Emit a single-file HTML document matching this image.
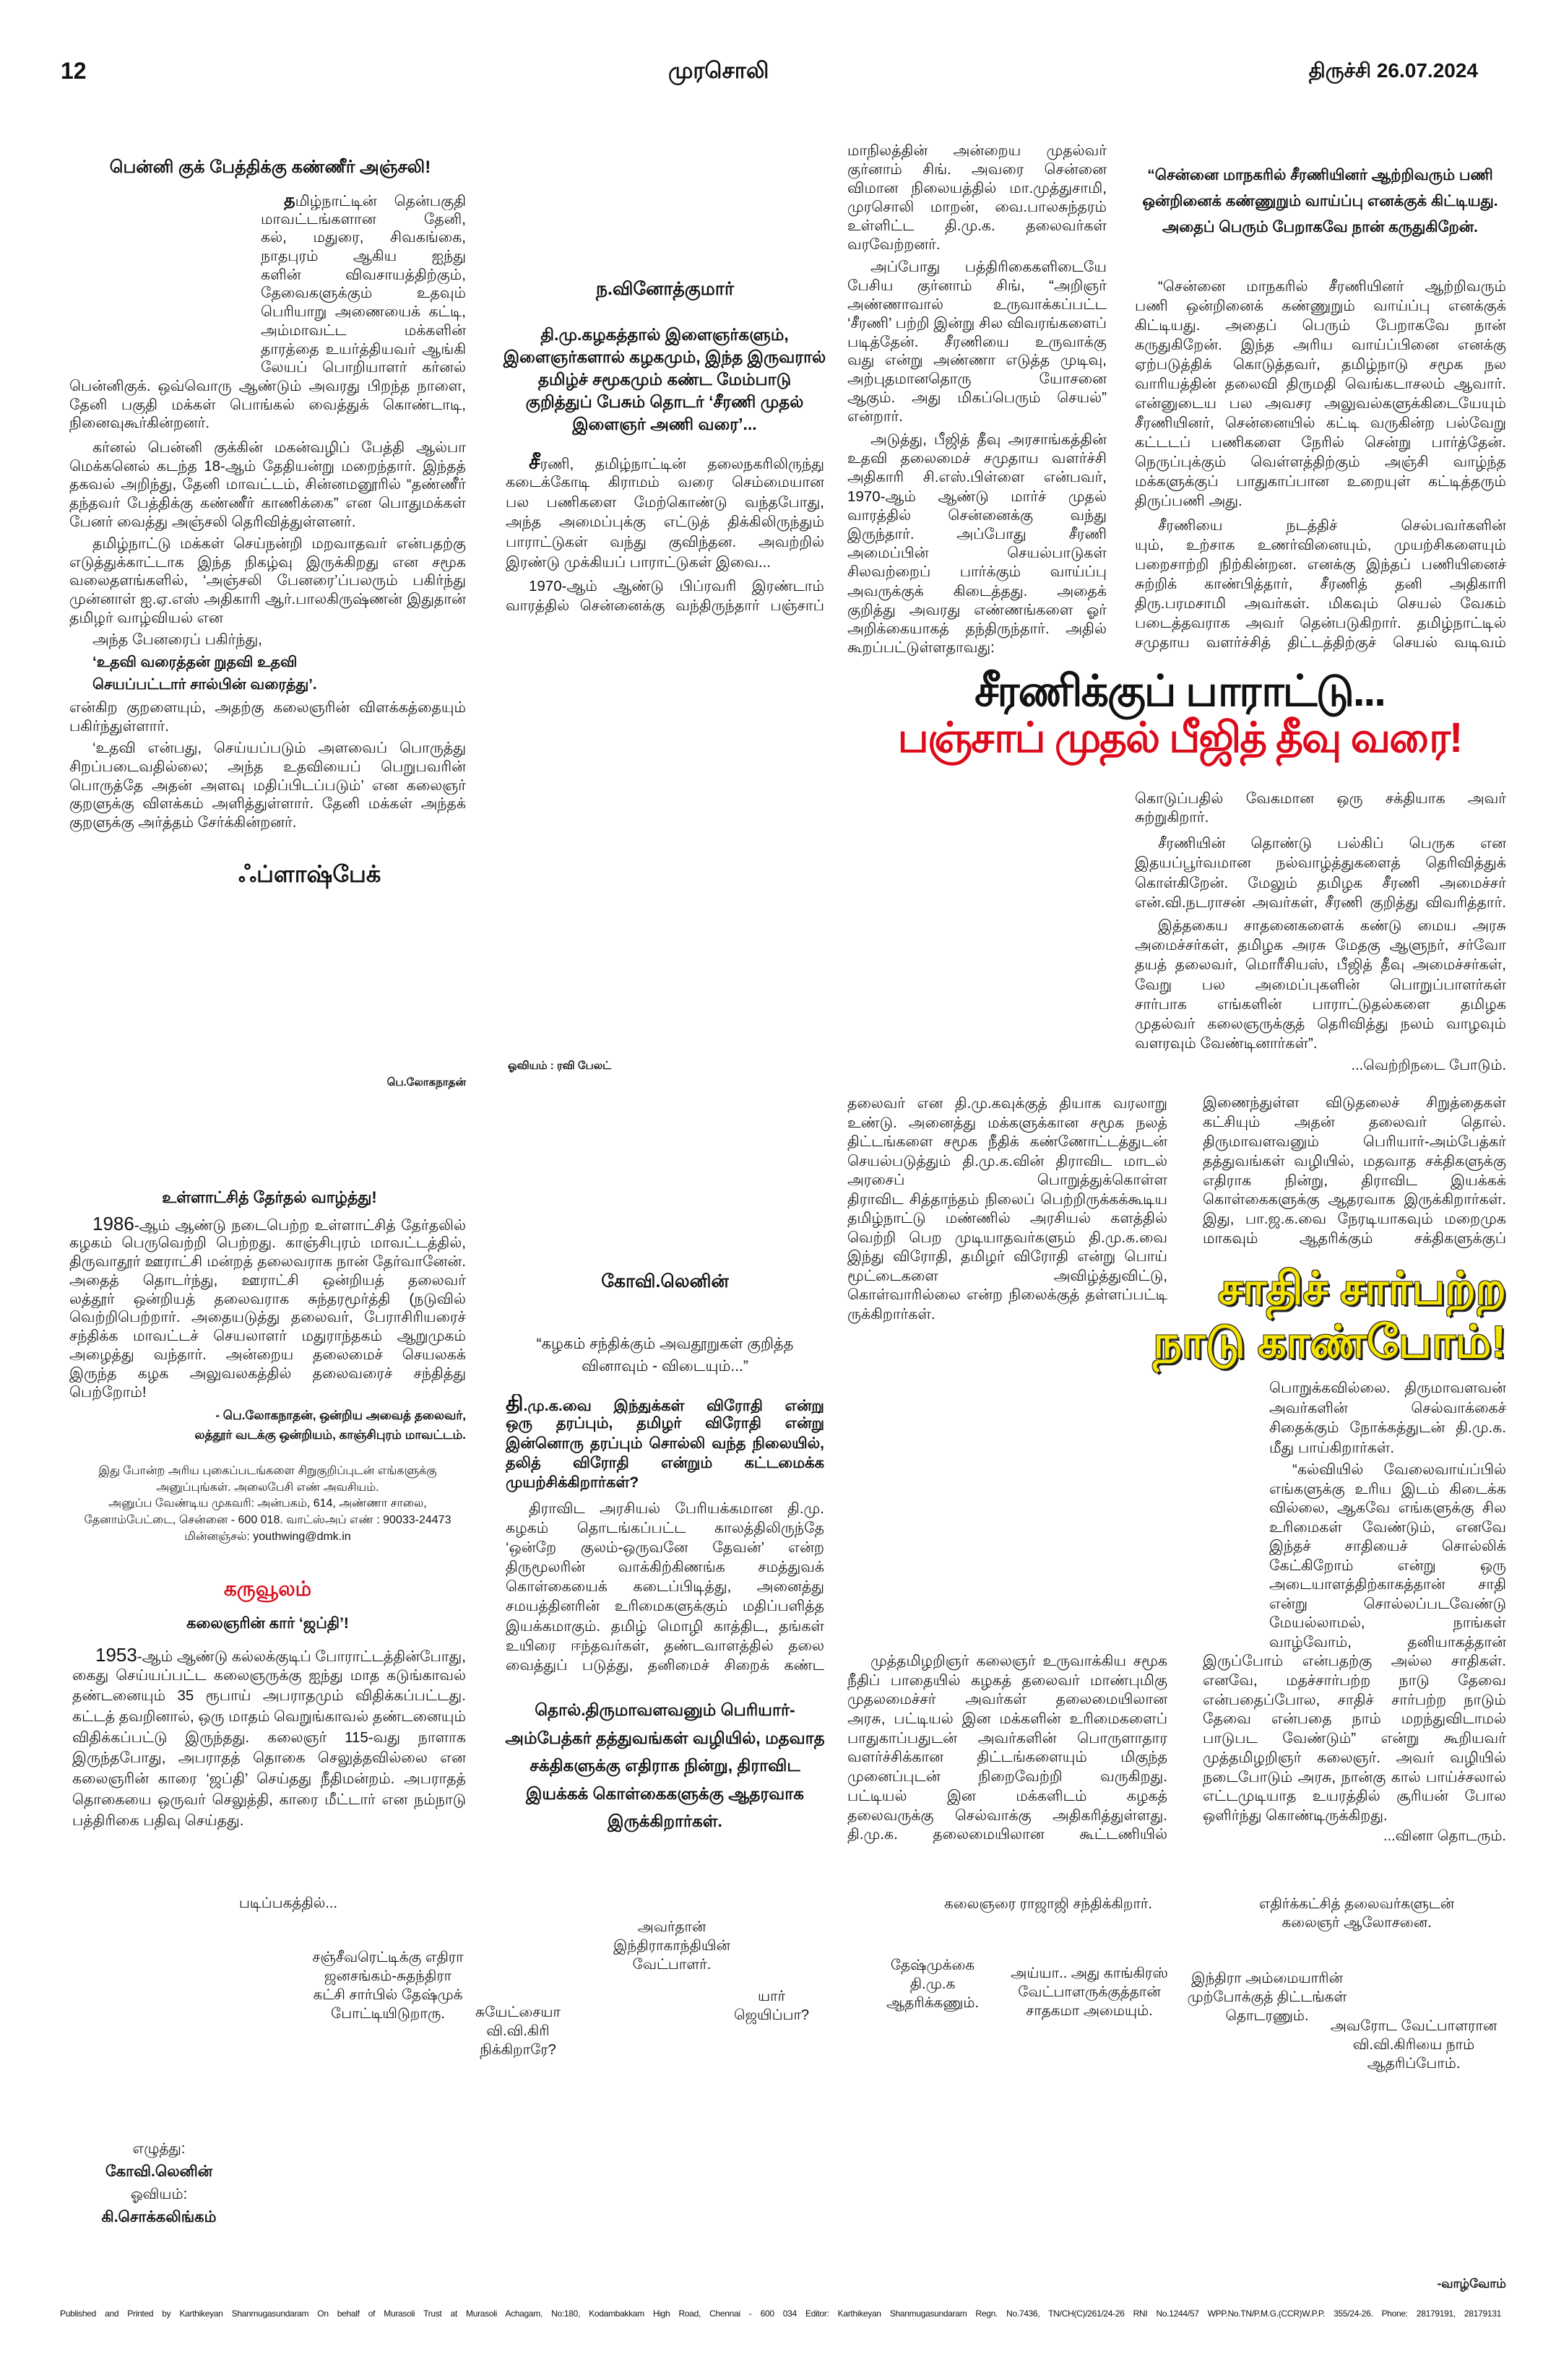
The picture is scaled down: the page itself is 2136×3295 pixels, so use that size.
<!DOCTYPE html>
<html><head><meta charset="utf-8">
<style>
*{margin:0;padding:0;box-sizing:border-box}
html,body{width:2136px;height:3295px;background:#fff;overflow:hidden}
body{position:relative;font-family:"Liberation Sans","Noto Sans CJK SC",sans-serif;color:#111}
.a{position:absolute;white-space:nowrap}
.p{position:absolute;font-size:20.5px}
.p div{height:var(--h);line-height:var(--h);overflow:hidden;text-align:justify;text-align-last:justify}
.p div.e{text-align-last:left}
.p div.r{text-align-last:right}
.p div.c{text-align:center;text-align-last:center}
.p div.i{text-indent:32px}
.b{font-weight:bold}
.cc{position:absolute;text-align:center;font-size:20px;line-height:26px}
</style></head><body>

<div class="a b" style="left:84px;top:80px;font-size:32px">12</div>
<div class="a b" style="left:925px;top:80px;font-size:31px">முரசொலி</div>
<div class="a b" style="right:90px;top:82px;font-size:28px">திருச்சி 26.07.2024</div>

<!-- Column 1 top -->
<div class="a b" style="left:121px;top:218px;width:506px;font-size:24px;text-align:center">பென்னி குக் பேத்திக்கு கண்ணீர் அஞ்சலி!</div>
<div class="p" style="--h:25.7px;left:361px;top:265px;width:284px">
<div class="i"><b style="font-size:24px">த</b>மிழ்நாட்டின் தென்பகுதி</div>
<div>மாவட்டங்களான தேனி, திண்டுக்</div>
<div>கல், மதுரை, சிவகங்கை, இராம</div>
<div>நாதபுரம் ஆகிய ஐந்து மாவட்டங்</div>
<div>களின் விவசாயத்திற்கும், குடிநீர்த்</div>
<div>தேவைகளுக்கும் உதவும் முல்லை-</div>
<div>பெரியாறு அணையைக் கட்டி,</div>
<div>அம்மாவட்ட மக்களின் வாழ்வா</div>
<div>தாரத்தை உயர்த்தியவர் ஆங்கி</div>
<div>லேயப் பொறியாளர் கர்னல் ஜான்</div>
</div>
<div class="p" style="--h:25.7px;left:96px;top:522px;width:549px">
<div>பென்னிகுக். ஒவ்வொரு ஆண்டும் அவரது பிறந்த நாளை,</div>
<div>தேனி பகுதி மக்கள் பொங்கல் வைத்துக் கொண்டாடி, நன்றியுடன்</div>
<div class="e">நினைவுகூர்கின்றனர்.</div>
</div>
<div class="p" style="--h:25.7px;left:96px;top:607px;width:549px">
<div class="i">கர்னல் பென்னி குக்கின் மகன்வழிப் பேத்தி ஆல்பா</div>
<div>மெக்கனெல் கடந்த 18-ஆம் தேதியன்று மறைந்தார். இந்தத்</div>
<div>தகவல் அறிந்து, தேனி மாவட்டம், சின்னமனூரில் “தண்ணீர்</div>
<div>தந்தவர் பேத்திக்கு கண்ணீர் காணிக்கை” என பொதுமக்கள்</div>
<div class="e">பேனர் வைத்து அஞ்சலி தெரிவித்துள்ளனர்.</div>
</div>
<div class="p" style="--h:25.7px;left:96px;top:740px;width:549px">
<div class="i">தமிழ்நாட்டு மக்கள் செய்நன்றி மறவாதவர் என்பதற்கு</div>
<div>எடுத்துக்காட்டாக இந்த நிகழ்வு இருக்கிறது என சமூக</div>
<div>வலைதளங்களில், ‘அஞ்சலி பேனரை’ப்பலரும் பகிர்ந்து வருகின்றனர்.</div>
<div>முன்னாள் ஐ.ஏ.எஸ் அதிகாரி ஆர்.பாலகிருஷ்ணன் இதுதான்</div>
<div class="e">தமிழர் வாழ்வியல் என</div>
</div>
<div class="p" style="--h:31px;left:96px;top:870px;width:549px">
<div class="i e">அந்த பேனரைப் பகிர்ந்து,</div>
<div class="i e b">‘உதவி வரைத்தன் றுதவி உதவி</div>
<div class="i e b">செயப்பட்டார் சால்பின் வரைத்து’.</div>
</div>
<div class="p" style="--h:25.7px;left:96px;top:967px;width:549px">
<div>என்கிற குறளையும், அதற்கு கலைஞரின் விளக்கத்தையும்</div>
<div class="e">பகிர்ந்துள்ளார்.</div>
</div>
<div class="p" style="--h:25.8px;left:96px;top:1023px;width:549px">
<div class="i">‘உதவி என்பது, செய்யப்படும் அளவைப் பொருத்து</div>
<div>சிறப்படைவதில்லை; அந்த உதவியைப் பெறுபவரின் பண்பைப்</div>
<div>பொருத்தே அதன் அளவு மதிப்பிடப்படும்’ என கலைஞர் அந்தக்</div>
<div>குறளுக்கு விளக்கம் அளித்துள்ளார். தேனி மக்கள் அந்தக்</div>
<div class="e">குறளுக்கு அர்த்தம் சேர்க்கின்றனர்.</div>
</div>
<div class="a b" style="left:330px;top:1192px;font-size:32px">ஃப்ளாஷ்பேக்</div>
<div class="a b" style="left:703px;top:1467px;font-size:15px">ஓவியம் : ரவி பேலட்</div>
<div class="a b" style="right:1491px;top:1490px;font-size:15px">பெ.லோகநாதன்</div>

<!-- Column 1 lower -->
<div class="a b" style="left:120px;top:1645px;width:506px;font-size:22px;text-align:center">உள்ளாட்சித் தேர்தல் வாழ்த்து!</div>
<div class="p" style="--h:25.9px;left:96px;top:1682px;width:549px">
<div class="i"><span style="font-size:26px">1986</span>-ஆம் ஆண்டு நடைபெற்ற உள்ளாட்சித் தேர்தலில்</div>
<div>கழகம் பெருவெற்றி பெற்றது. காஞ்சிபுரம் மாவட்டத்தில்,</div>
<div>திருவாதூர் ஊராட்சி மன்றத் தலைவராக நான் தேர்வானேன்.</div>
<div>அதைத் தொடர்ந்து, ஊராட்சி ஒன்றியத் தலைவர் போட்டியில்,</div>
<div>லத்தூர் ஒன்றியத் தலைவராக சுந்தரமூர்த்தி (நடுவில் நிற்பவர்)</div>
<div>வெற்றிபெற்றார். அதையடுத்து தலைவர், பேராசிரியரைச்</div>
<div>சந்திக்க மாவட்டச் செயலாளர் மதுராந்தகம் ஆறுமுகம் அவர்கள்</div>
<div>அழைத்து வந்தார். அன்றைய தலைமைச் செயலகக் கட்டடத்தில்</div>
<div>இருந்த கழக அலுவலகத்தில் தலைவரைச் சந்தித்து வாழ்த்துப்</div>
<div class="e">பெற்றோம்!</div>
</div>
<div class="p b" style="--h:27px;left:96px;top:1946px;width:549px;font-size:17px">
<div class="r">- பெ.லோகநாதன், ஒன்றிய அவைத் தலைவர்,</div>
<div class="r">லத்தூர் வடக்கு ஒன்றியம், காஞ்சிபுரம் மாவட்டம்.</div>
</div>
<div class="cc" style="left:96px;top:2026px;width:549px;font-size:16px;line-height:22.7px">இது போன்ற அரிய புகைப்படங்களை சிறுகுறிப்புடன் எங்களுக்கு<br>அனுப்புங்கள். அலைபேசி எண் அவசியம்.<br>அனுப்ப வேண்டிய முகவரி: அன்பகம், 614, அண்ணா சாலை,<br>தேனாம்பேட்டை, சென்னை - 600 018. வாட்ஸ்அப் எண் : 90033-24473<br>மின்னஞ்சல்: youthwing@dmk.in</div>
<div class="a b" style="left:96px;top:2184px;width:549px;text-align:center;font-size:28px;color:#d8101e">கருவூலம்</div>
<div class="a b" style="left:96px;top:2236px;width:549px;text-align:center;font-size:21px">கலைஞரின் கார் ‘ஜப்தி’!</div>
<div class="p" style="--h:28.7px;left:100px;top:2277px;width:545px">
<div class="i"><span style="font-size:26px">1953</span>-ஆம் ஆண்டு கல்லக்குடிப் போராட்டத்தின்போது,</div>
<div>கைது செய்யப்பட்ட கலைஞருக்கு ஐந்து மாத கடுங்காவல்</div>
<div>தண்டனையும் 35 ரூபாய் அபராதமும் விதிக்கப்பட்டது. அபராதம்</div>
<div>கட்டத் தவறினால், ஒரு மாதம் வெறுங்காவல் தண்டனையும்</div>
<div>விதிக்கப்பட்டு இருந்தது. கலைஞர் 115-வது நாளாக சிறையில்</div>
<div>இருந்தபோது, அபராதத் தொகை செலுத்தவில்லை என</div>
<div>கலைஞரின் காரை ‘ஜப்தி’ செய்தது நீதிமன்றம். அபராதத்</div>
<div>தொகையை ஒருவர் செலுத்தி, காரை மீட்டார் என நம்நாடு</div>
<div class="e">பத்திரிகை பதிவு செய்தது.</div>
</div>

<!-- Column 2 upper -->
<div class="a b" style="left:700px;top:386px;width:441px;text-align:center;font-size:25px">ந.வினோத்குமார்</div>
<div class="cc b" style="left:690px;top:448px;width:460px;font-size:23px;line-height:31px">தி.மு.கழகத்தால் இளைஞர்களும்,<br>இளைஞர்களால் கழகமும், இந்த இருவரால்<br>தமிழ்ச் சமூகமும் கண்ட மேம்பாடு<br>குறித்துப் பேசும் தொடர் ‘சீரணி முதல்<br>இளைஞர் அணி வரை’...</div>
<div class="p" style="--h:27.8px;left:700px;top:626px;width:441px">
<div class="i"><b style="font-size:28px">சீ</b>ரணி, தமிழ்நாட்டின் தலைநகரிலிருந்து</div>
<div>கடைக்கோடி கிராமம் வரை செம்மையான</div>
<div>பல பணிகளை மேற்கொண்டு வந்தபோது,</div>
<div>அந்த அமைப்புக்கு எட்டுத் திக்கிலிருந்தும்</div>
<div>பாராட்டுகள் வந்து குவிந்தன. அவற்றில்</div>
<div class="e">இரண்டு முக்கியப் பாராட்டுகள் இவை...</div>
</div>
<div class="p" style="--h:27px;left:700px;top:798px;width:441px">
<div class="i">1970-ஆம் ஆண்டு பிப்ரவரி இரண்டாம்</div>
<div>வாரத்தில் சென்னைக்கு வந்திருந்தார் பஞ்சாப்</div>
</div>

<!-- Column 3 upper -->
<div class="p" style="--h:26px;left:1173px;top:196px;width:359px">
<div>மாநிலத்தின் அன்றைய முதல்வர்</div>
<div>குர்னாம் சிங். அவரை சென்னை</div>
<div>விமான நிலையத்தில் மா.முத்துசாமி,</div>
<div>முரசொலி மாறன், வை.பாலசுந்தரம்</div>
<div>உள்ளிட்ட தி.மு.க. தலைவர்கள்</div>
<div class="e">வரவேற்றனர்.</div>
</div>
<div class="p" style="--h:25.9px;left:1173px;top:357px;width:359px">
<div class="i">அப்போது பத்திரிகைகளிடையே</div>
<div>பேசிய குர்னாம் சிங், “அறிஞர்</div>
<div>அண்ணாவால் உருவாக்கப்பட்ட</div>
<div>‘சீரணி’ பற்றி இன்று சில விவரங்களைப்</div>
<div>படித்தேன். சீரணியை உருவாக்கு</div>
<div>வது என்று அண்ணா எடுத்த முடிவு,</div>
<div>அற்புதமானதொரு யோசனை</div>
<div>ஆகும். அது மிகப்பெரும் செயல்”</div>
<div class="e">என்றார்.</div>
</div>
<div class="p" style="--h:26.2px;left:1173px;top:596px;width:359px">
<div class="i">அடுத்து, பீஜித் தீவு அரசாங்கத்தின்</div>
<div>உதவி தலைமைச் சமுதாய வளர்ச்சி</div>
<div>அதிகாரி சி.எஸ்.பிள்ளை என்பவர்,</div>
<div>1970-ஆம் ஆண்டு மார்ச் முதல்</div>
<div>வாரத்தில் சென்னைக்கு வந்து</div>
<div>இருந்தார். அப்போது சீரணி</div>
<div>அமைப்பின் செயல்பாடுகள்</div>
<div>சிலவற்றைப் பார்க்கும் வாய்ப்பு</div>
<div>அவருக்குக் கிடைத்தது. அதைக்</div>
<div>குறித்து அவரது எண்ணங்களை ஓர்</div>
<div>அறிக்கையாகத் தந்திருந்தார். அதில்</div>
<div class="e">கூறப்பட்டுள்ளதாவது:</div>
</div>

<!-- Column 4 upper -->
<div class="cc b" style="left:1560px;top:225px;width:535px;font-size:21px;line-height:36px">“சென்னை மாநகரில் சீரணியினர் ஆற்றிவரும் பணி<br>ஒன்றினைக் கண்ணுறும் வாய்ப்பு எனக்குக் கிட்டியது.<br>அதைப் பெரும் பேறாகவே நான் கருதுகிறேன்.</div>
<div class="p" style="--h:27px;left:1571px;top:383px;width:514px">
<div class="i">“சென்னை மாநகரில் சீரணியினர் ஆற்றிவரும்</div>
<div>பணி ஒன்றினைக் கண்ணுறும் வாய்ப்பு எனக்குக்</div>
<div>கிட்டியது. அதைப் பெரும் பேறாகவே நான்</div>
<div>கருதுகிறேன். இந்த அரிய வாய்ப்பினை எனக்கு</div>
<div>ஏற்படுத்திக் கொடுத்தவர், தமிழ்நாடு சமூக நல</div>
<div>வாரியத்தின் தலைவி திருமதி வெங்கடாசலம் ஆவார்.</div>
<div>என்னுடைய பல அவசர அலுவல்களுக்கிடையேயும்</div>
<div>சீரணியினர், சென்னையில் கட்டி வருகின்ற பல்வேறு</div>
<div>கட்டடப் பணிகளை நேரில் சென்று பார்த்தேன்.</div>
<div>நெருப்புக்கும் வெள்ளத்திற்கும் அஞ்சி வாழ்ந்த</div>
<div>மக்களுக்குப் பாதுகாப்பான உறையுள் கட்டித்தரும்</div>
<div class="e">திருப்பணி அது.</div>
</div>
<div class="p" style="--h:27px;left:1571px;top:714px;width:514px">
<div class="i">சீரணியை நடத்திச் செல்பவர்களின் தொண்டுள்ளத்தை</div>
<div>யும், உற்சாக உணர்வினையும், முயற்சிகளையும்</div>
<div>பறைசாற்றி நிற்கின்றன. எனக்கு இந்தப் பணியினைச்</div>
<div>சுற்றிக் காண்பித்தார், சீரணித் தனி அதிகாரி</div>
<div>திரு.பரமசாமி அவர்கள். மிகவும் செயல் வேகம்</div>
<div>படைத்தவராக அவர் தென்படுகிறார். தமிழ்நாட்டில்</div>
<div>சமுதாய வளர்ச்சித் திட்டத்திற்குச் செயல் வடிவம்</div>
</div>

<!-- Headline -->
<div class="a b" style="left:1150px;top:922px;width:966px;text-align:center;font-size:60px;color:#111;letter-spacing:-2px">சீரணிக்குப் பாராட்டு...</div>
<div class="a b" style="left:1180px;top:988px;width:906px;text-align:center;font-size:58px;color:#dc0a1a;letter-spacing:-2px">பஞ்சாப் முதல் பீஜித் தீவு வரை!</div>

<div class="p" style="--h:26px;left:1571px;top:1093px;width:514px">
<div>கொடுப்பதில் வேகமான ஒரு சக்தியாக அவர்</div>
<div class="e">சுற்றுகிறார்.</div>
</div>
<div class="p" style="--h:27.3px;left:1571px;top:1154px;width:514px">
<div class="i">சீரணியின் தொண்டு பல்கிப் பெருக என</div>
<div>இதயப்பூர்வமான நல்வாழ்த்துகளைத் தெரிவித்துக்</div>
<div>கொள்கிறேன். மேலும் தமிழக சீரணி அமைச்சர்</div>
<div>என்.வி.நடராசன் அவர்கள், சீரணி குறித்து விவரித்தார்.</div>
</div>
<div class="p" style="--h:27.2px;left:1571px;top:1268px;width:514px">
<div class="i">இத்தகைய சாதனைகளைக் கண்டு மைய அரசு</div>
<div>அமைச்சர்கள், தமிழக அரசு மேதகு ஆளுநர், சர்வோ</div>
<div>தயத் தலைவர், மொரீசியஸ், பீஜித் தீவு அமைச்சர்கள்,</div>
<div>வேறு பல அமைப்புகளின் பொறுப்பாளர்கள்</div>
<div>சார்பாக எங்களின் பாராட்டுதல்களை தமிழக</div>
<div>முதல்வர் கலைஞருக்குத் தெரிவித்து நலம் வாழவும்</div>
<div class="e">வளரவும் வேண்டினார்கள்”.</div>
</div>
<div class="a" style="right:51px;top:1464px;font-size:20px">...வெற்றிநடை போடும்.</div>

<!-- Column 2 lower -->
<div class="a b" style="left:700px;top:1760px;width:441px;text-align:center;font-size:25px">கோவி.லெனின்</div>
<div class="cc" style="left:700px;top:1845px;width:441px;font-size:21px;line-height:31px">“கழகம் சந்திக்கும் அவதூறுகள் குறித்த<br>வினாவும் - விடையும்...”</div>
<div class="p b" style="--h:27.3px;left:700px;top:1930px;width:441px;font-size:21px">
<div><span style="font-size:30px">தி</span>.மு.க.வை இந்துக்கள் விரோதி என்று</div>
<div>ஒரு தரப்பும், தமிழர் விரோதி என்று</div>
<div>இன்னொரு தரப்பும் சொல்லி வந்த நிலையில்,</div>
<div>தலித் விரோதி என்றும் கட்டமைக்க</div>
<div class="e">முயற்சிக்கிறார்கள்?</div>
</div>
<div class="p" style="--h:27.1px;left:700px;top:2075px;width:441px">
<div class="i">திராவிட அரசியல் பேரியக்கமான தி.மு.</div>
<div>கழகம் தொடங்கப்பட்ட காலத்திலிருந்தே</div>
<div>‘ஒன்றே குலம்-ஒருவனே தேவன்’ என்ற</div>
<div>திருமூலரின் வாக்கிற்கிணங்க சமத்துவக்</div>
<div>கொள்கையைக் கடைப்பிடித்து, அனைத்து</div>
<div>சமயத்தினரின் உரிமைகளுக்கும் மதிப்பளித்த</div>
<div>இயக்கமாகும். தமிழ் மொழி காத்திட, தங்கள்</div>
<div>உயிரை ஈந்தவர்கள், தண்டவாளத்தில் தலை</div>
<div>வைத்துப் படுத்து, தனிமைச் சிறைக் கண்ட</div>
</div>
<div class="cc b" style="left:690px;top:2348px;width:461px;font-size:23px;line-height:38.5px">தொல்.திருமாவளவனும் பெரியார்-<br>அம்பேத்கர் தத்துவங்கள் வழியில், மதவாத<br>சக்திகளுக்கு எதிராக நின்று, திராவிட<br>இயக்கக் கொள்கைகளுக்கு ஆதரவாக<br>இருக்கிறார்கள்.</div>

<!-- Column 3 lower -->
<div class="p" style="--h:26.5px;left:1173px;top:1515px;width:443px">
<div>தலைவர் என தி.மு.கவுக்குத் தியாக வரலாறு</div>
<div>உண்டு. அனைத்து மக்களுக்கான சமூக நலத்</div>
<div>திட்டங்களை சமூக நீதிக் கண்ணோட்டத்துடன்</div>
<div>செயல்படுத்தும் தி.மு.க.வின் திராவிட மாடல்</div>
<div>அரசைப் பொறுத்துக்கொள்ள முடியாதவர்களும்,</div>
<div>திராவிட சித்தாந்தம் நிலைப் பெற்றிருக்கக்கூடிய</div>
<div>தமிழ்நாட்டு மண்ணில் அரசியல் களத்தில்</div>
<div>வெற்றி பெற முடியாதவர்களும் தி.மு.க.வை</div>
<div>இந்து விரோதி, தமிழர் விரோதி என்று பொய்</div>
<div>மூட்டைகளை அவிழ்த்துவிட்டு, கடைவிரித்தேன்...</div>
<div>கொள்வாரில்லை என்ற நிலைக்குத் தள்ளப்பட்டி</div>
<div class="e">ருக்கிறார்கள்.</div>
</div>
<div class="p" style="--h:26.7px;left:1173px;top:2287px;width:443px">
<div class="i">முத்தமிழறிஞர் கலைஞர் உருவாக்கிய சமூக</div>
<div>நீதிப் பாதையில் கழகத் தலைவர் மாண்புமிகு</div>
<div>முதலமைச்சர் அவர்கள் தலைமையிலான</div>
<div>அரசு, பட்டியல் இன மக்களின் உரிமைகளைப்</div>
<div>பாதுகாப்பதுடன் அவர்களின் பொருளாதார</div>
<div>வளர்ச்சிக்கான திட்டங்களையும் மிகுந்த</div>
<div>முனைப்புடன் நிறைவேற்றி வருகிறது. அதனால்,</div>
<div>பட்டியல் இன மக்களிடம் கழகத்</div>
<div>தலைவருக்கு செல்வாக்கு அதிகரித்துள்ளது.</div>
<div>தி.மு.க. தலைமையிலான கூட்டணியில்</div>
</div>

<!-- Column 4 lower -->
<div class="p" style="--h:26.9px;left:1665px;top:1514px;width:420px">
<div>இணைந்துள்ள விடுதலைச் சிறுத்தைகள்</div>
<div>கட்சியும் அதன் தலைவர் தொல்.</div>
<div>திருமாவளவனும் பெரியார்-அம்பேத்கர்</div>
<div>தத்துவங்கள் வழியில், மதவாத சக்திகளுக்கு</div>
<div>எதிராக நின்று, திராவிட இயக்கக்</div>
<div>கொள்கைகளுக்கு ஆதரவாக இருக்கிறார்கள்.</div>
<div>இது, பா.ஜ.க.வை நேரடியாகவும் மறைமுக</div>
<div>மாகவும் ஆதரிக்கும் சக்திகளுக்குப்</div>
</div>
<div class="a b" style="right:51px;top:1748px;font-size:62px;line-height:74px;color:#f4e200;text-shadow:3px 3px 0 #222,-1px -1px 0 #222,1px -1px 0 #222,-1px 1px 0 #222;text-align:right">சாதிச் சார்பற்ற<br>நாடு காண்போம்!</div>
<div class="p" style="--h:27.7px;left:1757px;top:1908px;width:328px">
<div>பொறுக்கவில்லை. திருமாவளவன்</div>
<div>அவர்களின் செல்வாக்கைச்</div>
<div>சிதைக்கும் நோக்கத்துடன் தி.மு.க.</div>
<div class="e">மீது பாய்கிறார்கள்.</div>
</div>
<div class="p" style="--h:26.5px;left:1757px;top:2022px;width:328px">
<div class="i">“கல்வியில் வேலைவாய்ப்பில்</div>
<div>எங்களுக்கு உரிய இடம் கிடைக்க</div>
<div>வில்லை, ஆகவே எங்களுக்கு சில</div>
<div>உரிமைகள் வேண்டும், எனவே</div>
<div>இந்தச் சாதியைச் சொல்லிக்</div>
<div>கேட்கிறோம் என்று ஒரு</div>
<div>அடையாளத்திற்காகத்தான் சாதி</div>
<div>என்று சொல்லப்படவேண்டு</div>
<div>மேயல்லாமல், நாங்கள் தனித்துத்தான்</div>
<div>வாழ்வோம், தனியாகத்தான்</div>
</div>
<div class="p" style="--h:26.75px;left:1665px;top:2287px;width:420px">
<div>இருப்போம் என்பதற்கு அல்ல சாதிகள்.</div>
<div>எனவே, மதச்சார்பற்ற நாடு தேவை</div>
<div>என்பதைப்போல, சாதிச் சார்பற்ற நாடும்</div>
<div>தேவை என்பதை நாம் மறந்துவிடாமல்</div>
<div>பாடுபட வேண்டும்” என்று கூறியவர்</div>
<div>முத்தமிழறிஞர் கலைஞர். அவர் வழியில்</div>
<div>நடைபோடும் அரசு, நான்கு கால் பாய்ச்சலால்</div>
<div>எட்டமுடியாத உயரத்தில் சூரியன் போல</div>
<div class="e">ஒளிர்ந்து கொண்டிருக்கிறது.</div>
</div>
<div class="a" style="right:51px;top:2531px;font-size:20px">...வினா தொடரும்.</div>

<!-- Cartoon captions -->
<div class="cc" style="left:331px;top:2622px;width:200px;text-align:left">படிப்பகத்தில்...</div>
<div class="cc" style="left:780px;top:2655px;width:300px">அவர்தான்<br>இந்திராகாந்தியின்<br>வேட்பாளர்.</div>
<div class="cc" style="left:387px;top:2697px;width:300px">சஞ்சீவரெட்டிக்கு எதிரா<br>ஜனசங்கம்-சுதந்திரா<br>கட்சி சார்பில் தேஷ்முக்<br>போட்டியிடுறாரு.</div>
<div class="cc" style="left:617px;top:2773px;width:200px">சுயேட்சையா<br>வி.வி.கிரி<br>நிக்கிறாரே?</div>
<div class="cc" style="left:988px;top:2751px;width:160px">யார்<br>ஜெயிப்பா?</div>
<div class="cc" style="left:1301px;top:2623px;width:300px">கலைஞரை ராஜாஜி சந்திக்கிறார்.</div>
<div class="cc" style="left:1191px;top:2708px;width:200px">தேஷ்முக்கை<br>தி.மு.க<br>ஆதரிக்கணும்.</div>
<div class="cc" style="left:1358px;top:2719px;width:300px">அய்யா.. அது காங்கிரஸ்<br>வேட்பாளருக்குத்தான்<br>சாதகமா அமையும்.</div>
<div class="cc" style="left:1718px;top:2623px;width:320px">எதிர்க்கட்சித் தலைவர்களுடன்<br>கலைஞர் ஆலோசனை.</div>
<div class="cc" style="left:1604px;top:2726px;width:300px">இந்திரா அம்மையாரின்<br>முற்போக்குத் திட்டங்கள்<br>தொடரணும்.</div>
<div class="cc" style="left:1807px;top:2792px;width:300px">அவரோட வேட்பாளரான<br>வி.வி.கிரியை நாம்<br>ஆதரிப்போம்.</div>

<!-- credits -->
<div class="cc" style="left:120px;top:2960px;width:200px;line-height:31px">எழுத்து:<br><b style="font-size:21px">கோவி.லெனின்</b><br>ஓவியம்:<br><b style="font-size:21px">கி.சொக்கலிங்கம்</b></div>
<div class="a b" style="right:51px;top:3152px;font-size:17px">-வாழ்வோம்</div>
<div class="a" style="left:83px;top:3196px;width:1995px;font-size:12px;letter-spacing:-0.3px;text-align:justify;text-align-last:justify;white-space:normal;height:16px;overflow:hidden">Published and Printed by Karthikeyan Shanmugasundaram On behalf of Murasoli Trust at Murasoli Achagam, No:180, Kodambakkam High Road, Chennai - 600 034 Editor: Karthikeyan Shanmugasundaram Regn. No.7436, TN/CH(C)/261/24-26 RNI No.1244/57 WPP.No.TN/P.M.G.(CCR)W.P.P. 355/24-26. Phone: 28179191, 28179131</div>

</body></html>
